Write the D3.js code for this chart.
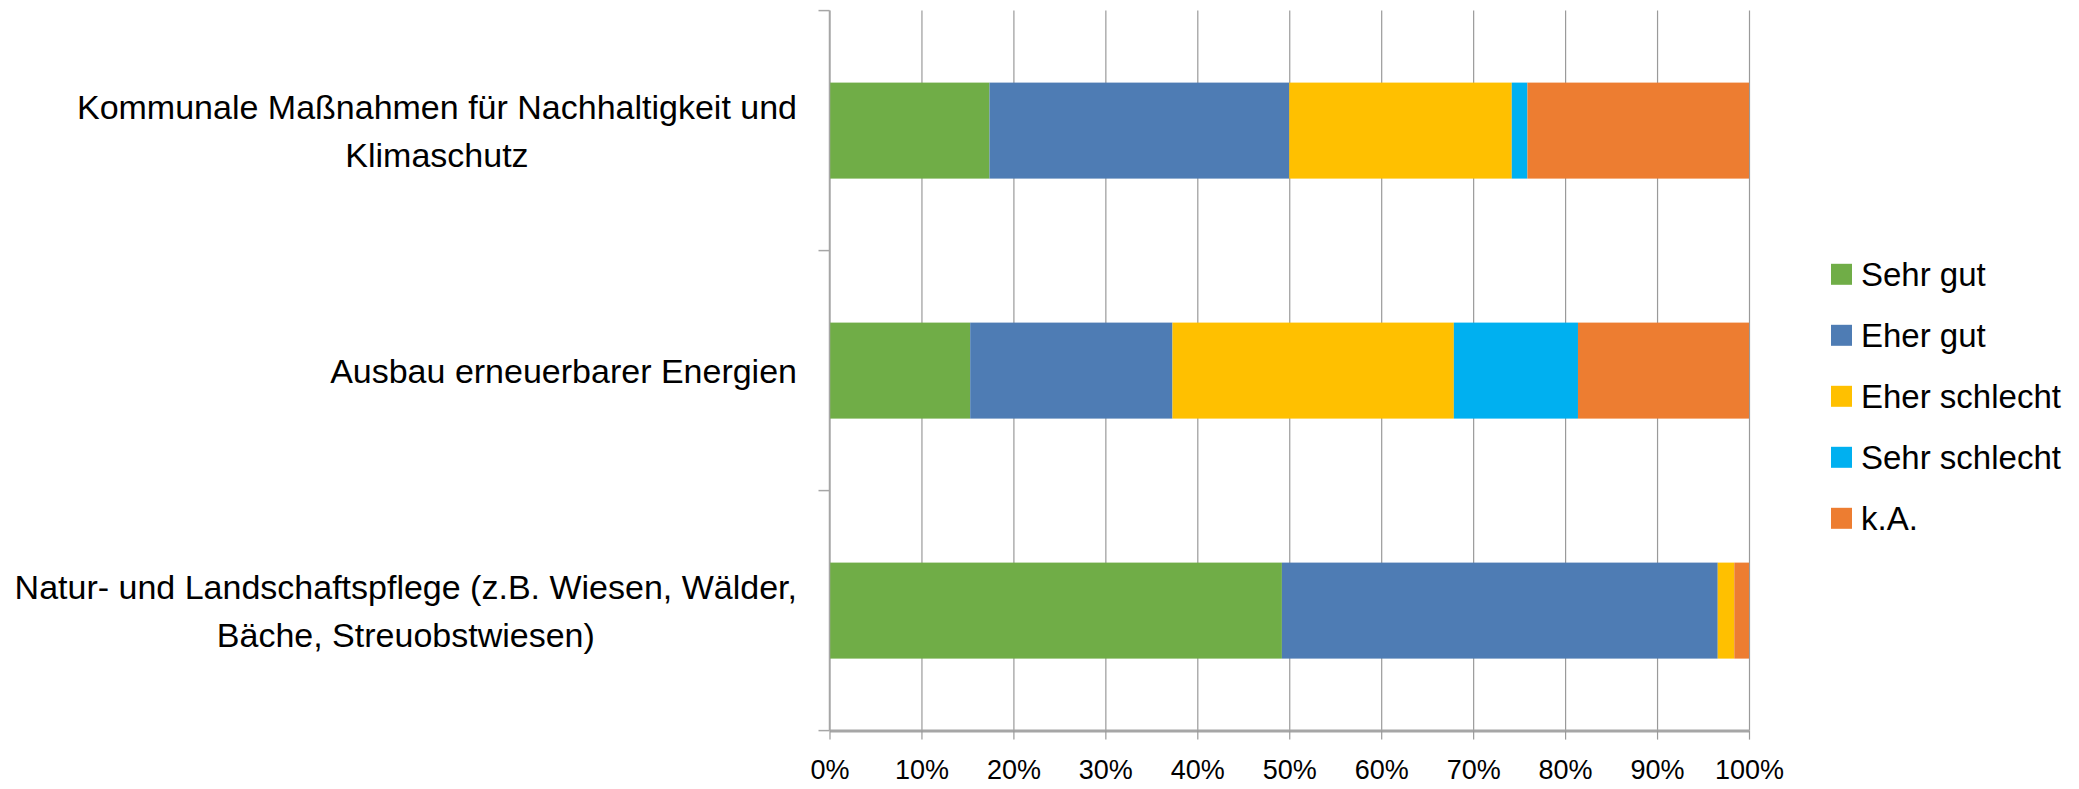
<!DOCTYPE html>
<html><head><meta charset="utf-8">
<script src="https://cdn.jsdelivr.net/npm/d3@7"></script>
<style>html,body{margin:0;padding:0;background:#fff;}svg{display:block;}</style>
</head><body>
<svg id="chart" width="2079" height="789"></svg>
<script>
const categories = [
  "Kommunale Maßnahmen für Nachhaltigkeit und Klimaschutz",
  "Ausbau erneuerbarer Energien",
  "Natur- und Landschaftspflege (z.B. Wiesen, Wälder, Bäche, Streuobstwiesen)"
];
const categoryLines = [
  ["Kommunale Maßnahmen für Nachhaltigkeit und", "Klimaschutz"],
  ["Ausbau erneuerbarer Energien"],
  ["Natur- und Landschaftspflege (z.B. Wiesen, Wälder,", "Bäche, Streuobstwiesen)"]
];
const seriesNames = ["Sehr gut", "Eher gut", "Eher schlecht", "Sehr schlecht", "k.A."];
const sehrGut      = [17.4, 15.3, 49.2];
const eherGut      = [32.6, 22.0, 47.4];
const eherSchlecht = [24.2, 30.6, 1.8];
const sehrSchlecht = [1.7, 13.5, 0.0];
const kA           = [24.1, 18.6, 1.6];
const colors = ["#70AD47", "#4E7CB4", "#FFC000", "#00B0F0", "#ED7D31"];
const xTicks = [0, 0.1, 0.2, 0.3, 0.4, 0.5, 0.6, 0.7, 0.8, 0.9, 1.0];

const seriesValues = [sehrGut, eherGut, eherSchlecht, sehrSchlecht, kA];
const table = categories.map((c, i) => {
  const row = {category: c};
  seriesNames.forEach((s, j) => row[s] = seriesValues[j][i] / 100);
  return row;
});

const svg = d3.select("#chart");
const FONT = "'Liberation Sans', Arial, sans-serif";
const pL = 829.5, pR = 1749, pT = 10.6, pB = 730.6;

const x = d3.scaleLinear().domain([0, 1]).range([pL, pR]);
const y = d3.scaleBand().domain(categories).range([pT, pB]).paddingInner(0.6).paddingOuter(0.3);

// gridlines
const grid = svg.append("g").attr("transform", `translate(0,${pB})`)
  .call(d3.axisBottom(x).tickValues(xTicks).tickSize(-(pB - pT)).tickFormat(""));
grid.select(".domain").remove();
grid.selectAll("line").attr("stroke", "#9a9a9a").attr("stroke-width", 1.2);

// bars
const stack = d3.stack().keys(seriesNames)(table);
svg.append("g").selectAll("g").data(stack).join("g")
  .attr("fill", (d, i) => colors[i])
  .selectAll("rect").data(d => d).join("rect")
  .attr("x", d => x(d[0]))
  .attr("width", d => x(d[1]) - x(d[0]))
  .attr("y", d => y(d.data.category))
  .attr("height", y.bandwidth());

// left axis line with category boundary ticks
const yl = svg.append("g");
yl.append("line").attr("x1", pL).attr("x2", pL).attr("y1", pT).attr("y2", pB)
  .attr("stroke", "#a6a6a6").attr("stroke-width", 1.5);
const bounds = [pT].concat(categories.map(c => y(c) + y.bandwidth() + y.step() * 0.3));
yl.selectAll("line.tk").data(bounds).join("line").attr("class", "tk")
  .attr("x1", pL - 11).attr("x2", pL).attr("y1", d => d).attr("y2", d => d)
  .attr("stroke", "#a6a6a6").attr("stroke-width", 1.5);

// bottom axis
const xa = svg.append("g").attr("transform", `translate(0,${pB})`)
  .call(d3.axisBottom(x).tickValues(xTicks).tickSize(9).tickSizeOuter(0).tickPadding(20).tickFormat(d3.format(".0%")));
xa.select(".domain").attr("stroke", "#a6a6a6").attr("stroke-width", 3);
xa.selectAll(".tick line").attr("stroke", "#9a9a9a").attr("stroke-width", 1.2);
xa.selectAll("text").attr("font-family", FONT).attr("font-size", 27).attr("fill", "#000");

// category labels
const lbl = svg.append("g");
categories.forEach((c, i) => {
  const lines = categoryLines[i];
  const cy = y(c) + y.bandwidth() / 2;
  const g = lbl.append("g");
  const texts = lines.map((ln, k) => g.append("text")
    .attr("y", cy + (k - (lines.length - 1) / 2) * 48)
    .attr("dy", "0.35em")
    .attr("text-anchor", "middle")
    .attr("font-family", FONT).attr("font-size", 34).attr("fill", "#000")
    .text(ln));
  const w = d3.max(texts, t => t.node().getComputedTextLength());
  texts.forEach(t => t.attr("x", 797 - w / 2));
});

// legend
const lg = svg.append("g");
seriesNames.forEach((s, i) => {
  const cy = 274.3 + i * 61;
  lg.append("rect").attr("x", 1831).attr("y", cy - 10.5).attr("width", 21).attr("height", 21).attr("fill", colors[i]);
  lg.append("text").attr("x", 1861).attr("y", cy).attr("dy", "0.35em")
    .attr("font-family", FONT).attr("font-size", 33).attr("fill", "#000").text(s);
});
</script>
</body></html>
